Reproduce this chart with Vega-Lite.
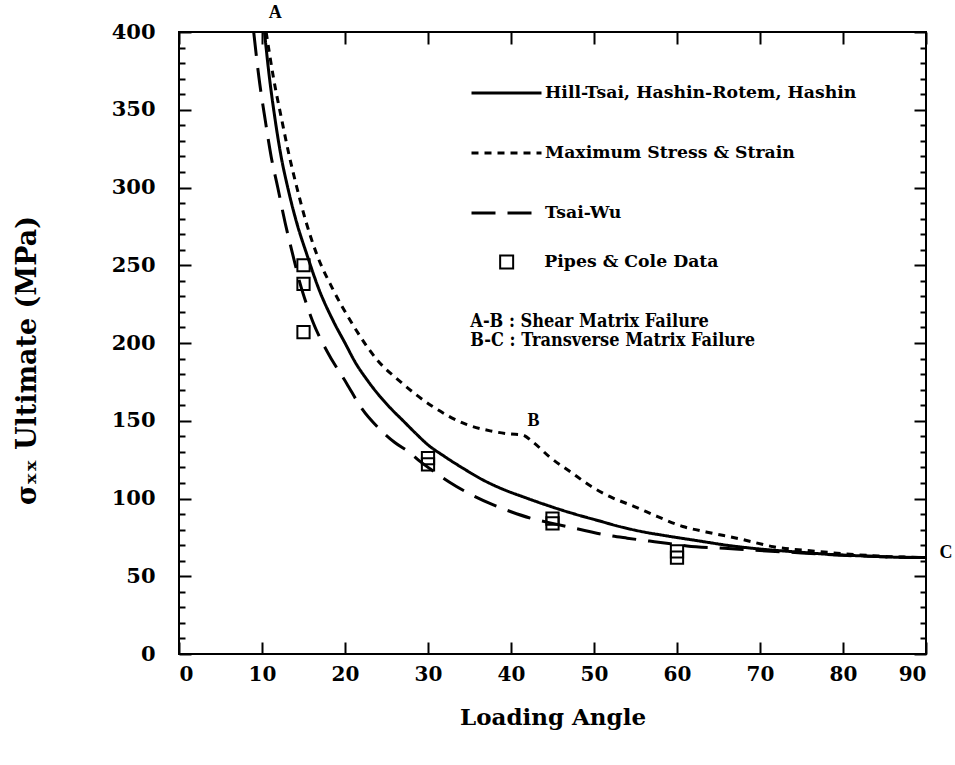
{
  "$schema": "https://vega.github.io/schema/vega-lite/v6.json",
  "width": 747,
  "height": 622,
  "autosize": {"type": "none"},
  "padding": {"left": 179, "top": 32, "right": 29, "bottom": 111},
  "background": "white",
  "config": {
    "view": {"stroke": "black", "strokeWidth": 2},
    "font": "DejaVu Serif",
    "axis": {
      "domain": false, "grid": false, "tickColor": "black", "tickWidth": 2,
      "labelColor": "black", "labelFont": "DejaVu Serif", "labelFontWeight": "bold", "labelFontSize": 19,
      "titleFont": "DejaVu Serif", "titleFontWeight": "bold", "titleColor": "black"
    }
  },
  "datasets": {
    "curves": [
      {"model": "Hill-Tsai, Hashin-Rotem, Hashin", "angle": 10.3, "stress": 400},
      {"model": "Hill-Tsai, Hashin-Rotem, Hashin", "angle": 10.8, "stress": 375},
      {"model": "Hill-Tsai, Hashin-Rotem, Hashin", "angle": 11.6, "stress": 343},
      {"model": "Hill-Tsai, Hashin-Rotem, Hashin", "angle": 12.3, "stress": 320},
      {"model": "Hill-Tsai, Hashin-Rotem, Hashin", "angle": 13.1, "stress": 300},
      {"model": "Hill-Tsai, Hashin-Rotem, Hashin", "angle": 14.2, "stress": 277},
      {"model": "Hill-Tsai, Hashin-Rotem, Hashin", "angle": 15.4, "stress": 257},
      {"model": "Hill-Tsai, Hashin-Rotem, Hashin", "angle": 16.9, "stress": 234},
      {"model": "Hill-Tsai, Hashin-Rotem, Hashin", "angle": 18.6, "stress": 214},
      {"model": "Hill-Tsai, Hashin-Rotem, Hashin", "angle": 20, "stress": 200},
      {"model": "Hill-Tsai, Hashin-Rotem, Hashin", "angle": 21.3, "stress": 187},
      {"model": "Hill-Tsai, Hashin-Rotem, Hashin", "angle": 22.7, "stress": 176},
      {"model": "Hill-Tsai, Hashin-Rotem, Hashin", "angle": 24, "stress": 167},
      {"model": "Hill-Tsai, Hashin-Rotem, Hashin", "angle": 25.5, "stress": 158},
      {"model": "Hill-Tsai, Hashin-Rotem, Hashin", "angle": 27, "stress": 150},
      {"model": "Hill-Tsai, Hashin-Rotem, Hashin", "angle": 28.5, "stress": 142},
      {"model": "Hill-Tsai, Hashin-Rotem, Hashin", "angle": 30, "stress": 134.5},
      {"model": "Hill-Tsai, Hashin-Rotem, Hashin", "angle": 32, "stress": 127},
      {"model": "Hill-Tsai, Hashin-Rotem, Hashin", "angle": 34.2, "stress": 119.5},
      {"model": "Hill-Tsai, Hashin-Rotem, Hashin", "angle": 36.6, "stress": 112},
      {"model": "Hill-Tsai, Hashin-Rotem, Hashin", "angle": 39, "stress": 106},
      {"model": "Hill-Tsai, Hashin-Rotem, Hashin", "angle": 41.5, "stress": 101},
      {"model": "Hill-Tsai, Hashin-Rotem, Hashin", "angle": 44.7, "stress": 95},
      {"model": "Hill-Tsai, Hashin-Rotem, Hashin", "angle": 48, "stress": 89.5},
      {"model": "Hill-Tsai, Hashin-Rotem, Hashin", "angle": 50.7, "stress": 85.5},
      {"model": "Hill-Tsai, Hashin-Rotem, Hashin", "angle": 52.7, "stress": 82.5},
      {"model": "Hill-Tsai, Hashin-Rotem, Hashin", "angle": 55.5, "stress": 79},
      {"model": "Hill-Tsai, Hashin-Rotem, Hashin", "angle": 58.7, "stress": 76},
      {"model": "Hill-Tsai, Hashin-Rotem, Hashin", "angle": 62.3, "stress": 73},
      {"model": "Hill-Tsai, Hashin-Rotem, Hashin", "angle": 66.6, "stress": 69.5},
      {"model": "Hill-Tsai, Hashin-Rotem, Hashin", "angle": 70, "stress": 67.5},
      {"model": "Hill-Tsai, Hashin-Rotem, Hashin", "angle": 74.7, "stress": 65.5},
      {"model": "Hill-Tsai, Hashin-Rotem, Hashin", "angle": 78.5, "stress": 64},
      {"model": "Hill-Tsai, Hashin-Rotem, Hashin", "angle": 82.7, "stress": 63},
      {"model": "Hill-Tsai, Hashin-Rotem, Hashin", "angle": 86, "stress": 62.3},
      {"model": "Hill-Tsai, Hashin-Rotem, Hashin", "angle": 90, "stress": 62},
      {"model": "Maximum Stress & Strain", "angle": 10.5, "stress": 400},
      {"model": "Maximum Stress & Strain", "angle": 11.4, "stress": 370},
      {"model": "Maximum Stress & Strain", "angle": 12.4, "stress": 343},
      {"model": "Maximum Stress & Strain", "angle": 13.3, "stress": 320},
      {"model": "Maximum Stress & Strain", "angle": 14.2, "stress": 300},
      {"model": "Maximum Stress & Strain", "angle": 15.3, "stress": 278},
      {"model": "Maximum Stress & Strain", "angle": 16.6, "stress": 257},
      {"model": "Maximum Stress & Strain", "angle": 18.5, "stress": 235},
      {"model": "Maximum Stress & Strain", "angle": 20.8, "stress": 213},
      {"model": "Maximum Stress & Strain", "angle": 23.9, "stress": 189},
      {"model": "Maximum Stress & Strain", "angle": 26.7, "stress": 175},
      {"model": "Maximum Stress & Strain", "angle": 30.6, "stress": 159},
      {"model": "Maximum Stress & Strain", "angle": 34.7, "stress": 147.5},
      {"model": "Maximum Stress & Strain", "angle": 37.5, "stress": 143.5},
      {"model": "Maximum Stress & Strain", "angle": 39.9, "stress": 141.5},
      {"model": "Maximum Stress & Strain", "angle": 41.3, "stress": 141},
      {"model": "Maximum Stress & Strain", "angle": 42.7, "stress": 136},
      {"model": "Maximum Stress & Strain", "angle": 44.7, "stress": 126.5},
      {"model": "Maximum Stress & Strain", "angle": 47.2, "stress": 117},
      {"model": "Maximum Stress & Strain", "angle": 49.6, "stress": 108},
      {"model": "Maximum Stress & Strain", "angle": 52, "stress": 101},
      {"model": "Maximum Stress & Strain", "angle": 54.8, "stress": 95},
      {"model": "Maximum Stress & Strain", "angle": 57.6, "stress": 88.5},
      {"model": "Maximum Stress & Strain", "angle": 60.7, "stress": 82},
      {"model": "Maximum Stress & Strain", "angle": 63.5, "stress": 78.5},
      {"model": "Maximum Stress & Strain", "angle": 67.6, "stress": 74},
      {"model": "Maximum Stress & Strain", "angle": 71.6, "stress": 69},
      {"model": "Maximum Stress & Strain", "angle": 76.9, "stress": 66},
      {"model": "Maximum Stress & Strain", "angle": 80, "stress": 64.5},
      {"model": "Maximum Stress & Strain", "angle": 85, "stress": 62.8},
      {"model": "Maximum Stress & Strain", "angle": 90, "stress": 62},
      {"model": "Tsai-Wu", "angle": 9.0, "stress": 400},
      {"model": "Tsai-Wu", "angle": 9.6, "stress": 372},
      {"model": "Tsai-Wu", "angle": 10.4, "stress": 343},
      {"model": "Tsai-Wu", "angle": 11.1, "stress": 320},
      {"model": "Tsai-Wu", "angle": 11.9, "stress": 300},
      {"model": "Tsai-Wu", "angle": 12.8, "stress": 277},
      {"model": "Tsai-Wu", "angle": 13.7, "stress": 257},
      {"model": "Tsai-Wu", "angle": 14.6, "stress": 238},
      {"model": "Tsai-Wu", "angle": 15.3, "stress": 226},
      {"model": "Tsai-Wu", "angle": 16.1, "stress": 214},
      {"model": "Tsai-Wu", "angle": 17.8, "stress": 195},
      {"model": "Tsai-Wu", "angle": 20.2, "stress": 174},
      {"model": "Tsai-Wu", "angle": 22, "stress": 158},
      {"model": "Tsai-Wu", "angle": 24.2, "stress": 144.5},
      {"model": "Tsai-Wu", "angle": 26, "stress": 136},
      {"model": "Tsai-Wu", "angle": 27.8, "stress": 129.5},
      {"model": "Tsai-Wu", "angle": 29, "stress": 124},
      {"model": "Tsai-Wu", "angle": 30.8, "stress": 117},
      {"model": "Tsai-Wu", "angle": 32.6, "stress": 110.5},
      {"model": "Tsai-Wu", "angle": 35, "stress": 103},
      {"model": "Tsai-Wu", "angle": 37.8, "stress": 96},
      {"model": "Tsai-Wu", "angle": 40, "stress": 91.5},
      {"model": "Tsai-Wu", "angle": 42.6, "stress": 87},
      {"model": "Tsai-Wu", "angle": 45, "stress": 84},
      {"model": "Tsai-Wu", "angle": 47.1, "stress": 81.5},
      {"model": "Tsai-Wu", "angle": 49, "stress": 79.3},
      {"model": "Tsai-Wu", "angle": 51.5, "stress": 76.5},
      {"model": "Tsai-Wu", "angle": 54, "stress": 74.5},
      {"model": "Tsai-Wu", "angle": 56.7, "stress": 72.6},
      {"model": "Tsai-Wu", "angle": 59, "stress": 71},
      {"model": "Tsai-Wu", "angle": 61.2, "stress": 69.5},
      {"model": "Tsai-Wu", "angle": 65.7, "stress": 68},
      {"model": "Tsai-Wu", "angle": 70, "stress": 66.5},
      {"model": "Tsai-Wu", "angle": 75, "stress": 65},
      {"model": "Tsai-Wu", "angle": 80, "stress": 63.5},
      {"model": "Tsai-Wu", "angle": 85, "stress": 62.5},
      {"model": "Tsai-Wu", "angle": 90, "stress": 62}
    ],
    "pipes": [
      {"source": "Pipes & Cole Data", "angle": 15, "stress": 250},
      {"source": "Pipes & Cole Data", "angle": 15, "stress": 238},
      {"source": "Pipes & Cole Data", "angle": 15, "stress": 207},
      {"source": "Pipes & Cole Data", "angle": 30, "stress": 126},
      {"source": "Pipes & Cole Data", "angle": 30, "stress": 122},
      {"source": "Pipes & Cole Data", "angle": 45, "stress": 87},
      {"source": "Pipes & Cole Data", "angle": 45, "stress": 84},
      {"source": "Pipes & Cole Data", "angle": 60, "stress": 66},
      {"source": "Pipes & Cole Data", "angle": 60, "stress": 62}
    ],
    "points": [
      {"t": "A", "angle": 11.6, "stress": 412},
      {"t": "B", "angle": 42.7, "stress": 150},
      {"t": "C", "angle": 92.4, "stress": 65}
    ],
    "notes": [
      {"t": "A-B :  Shear Matrix Failure\nB-C :  Transverse Matrix Failure", "angle": 35.1, "stress": 213.2}
    ]
  },
  "layer": [
    {
      "data": {"name": "curves"},
      "mark": {"type": "line", "interpolate": "monotone", "color": "black", "strokeWidth": 3, "clip": true},
      "encoding": {
        "x": {"field": "angle", "type": "quantitative", "scale": {"domain": [0, 90], "nice": false, "zero": false},
          "axis": {"orient": "bottom", "values": [0,10,20,30,40,50,60,70,80,90], "tickSize": -12, "labelPadding": 22, "labelFontSize": 20,
            "title": "Loading Angle", "titleFontSize": 23, "titlePadding": 22}},
        "y": {"field": "stress", "type": "quantitative", "scale": {"domain": [0, 400], "nice": false},
          "axis": {"orient": "left", "values": [0,10,20,30,40,50,60,70,80,90,100,110,120,130,140,150,160,170,180,190,200,210,220,230,240,250,260,270,280,290,300,310,320,330,340,350,360,370,380,390,400],
            "labelExpr": "datum.value % 50 === 0 ? datum.label : ''",
            "tickSize": {"condition": {"test": "datum.value % 50 === 0", "value": -12}, "value": -6},
            "labelPadding": 36, "labelFontSize": 21,
            "title": "σₓₓ Ultimate (MPa)", "titleFontSize": 27, "titlePadding": 70, "titleY": 328}},
        "strokeDash": {"field": "model", "type": "nominal",
          "scale": {"domain": ["Hill-Tsai, Hashin-Rotem, Hashin", "Maximum Stress & Strain", "Tsai-Wu"], "range": [[1, 0], [7, 6], [24, 12]]},
          "legend": {"title": null, "orient": "none", "legendX": 291, "legendY": 51, "symbolType": "stroke", "symbolSize": 4900,
            "symbolStrokeWidth": 3, "symbolStrokeColor": "black", "labelFont": "DejaVu Serif", "labelFontWeight": "bold",
            "labelFontSize": 17.3, "labelColor": "black", "labelOffset": 2, "labelLimit": 0, "rowPadding": 40, "clipHeight": 20}}
      }
    },
    {
      "data": {"name": "pipes"},
      "mark": {"type": "point", "shape": "square", "filled": false, "color": "black", "strokeWidth": 2, "size": 150, "opacity": 1},
      "encoding": {
        "x": {"field": "angle", "type": "quantitative",
          "axis": {"orient": "top", "values": [0,10,20,30,40,50,60,70,80,90], "tickSize": -12, "labels": false, "title": null}},
        "y": {"field": "stress", "type": "quantitative",
          "axis": {"orient": "right", "values": [0,10,20,30,40,50,60,70,80,90,100,110,120,130,140,150,160,170,180,190,200,210,220,230,240,250,260,270,280,290,300,310,320,330,340,350,360,370,380,390,400],
            "labels": false, "title": null,
            "tickSize": {"condition": {"test": "datum.value % 50 === 0", "value": -12}, "value": -6}}},
        "shape": {"field": "source", "type": "nominal", "scale": {"range": ["square"]},
          "legend": {"title": null, "orient": "none", "legendX": 319, "legendY": 220, "symbolSize": 169, "symbolStrokeWidth": 2,
            "symbolStrokeColor": "black", "symbolFillColor": "white", "labelFont": "DejaVu Serif", "labelFontWeight": "bold",
            "labelFontSize": 17.3, "labelColor": "black", "labelOffset": 29, "labelLimit": 0, "clipHeight": 20}}
      }
    },
    {
      "data": {"name": "points"},
      "mark": {"type": "text", "font": "Liberation Serif", "fontWeight": "bold", "fontSize": 18, "color": "black", "align": "center", "baseline": "middle"},
      "encoding": {
        "x": {"field": "angle", "type": "quantitative", "axis": null},
        "y": {"field": "stress", "type": "quantitative", "axis": null},
        "text": {"field": "t"}
      }
    },
    {
      "data": {"name": "notes"},
      "mark": {"type": "text", "font": "DejaVu Serif Condensed", "fontWeight": "bold", "fontSize": 18, "color": "black", "align": "left", "baseline": "middle", "lineBreak": "\n", "lineHeight": 19},
      "encoding": {
        "x": {"field": "angle", "type": "quantitative", "axis": null},
        "y": {"field": "stress", "type": "quantitative", "axis": null},
        "text": {"field": "t"}
      }
    }
  ],
  "resolve": {"axis": {"x": "independent", "y": "independent"}}
}
